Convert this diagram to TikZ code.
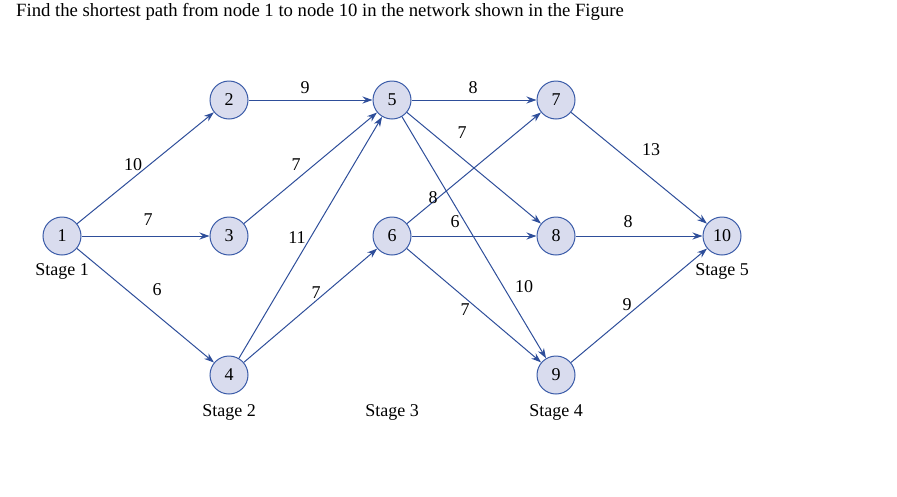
\documentclass[tikz,border=0pt]{standalone}
\usepackage{fontspec}
\setmainfont{Liberation Serif}
\usetikzlibrary{arrows.meta}
\definecolor{nfill}{HTML}{D9DCEE}
\definecolor{nline}{HTML}{3A5BA8}
\definecolor{eline}{HTML}{2E4E9A}
\begin{document}
\begin{tikzpicture}[x=1pt,y=-1pt,
  nd/.style={circle,draw=nline,fill=nfill,line width=1pt,minimum size=38pt,inner sep=0pt,font=\fontsize{18}{19}\selectfont},
  ed/.style={draw=eline,line width=1pt,-{Stealth[length=10pt,width=7pt]}},
  lb/.style={font=\fontsize{18}{19}\selectfont,inner sep=0pt},
  font=\fontsize{18}{19}\selectfont]
\useasboundingbox (0,0) rectangle (897,496);
\node[anchor=west,inner sep=0pt,font=\fontsize{18.7}{20}\selectfont] (title) at (16,12) {Find the shortest path from node 1 to node 10 in the network shown in the Figure};
\node[nd] (n1) at (62,236) {1};
\node[nd] (n2) at (229,100) {2};
\node[nd] (n3) at (229,236) {3};
\node[nd] (n4) at (229,375) {4};
\node[nd] (n5) at (392,100) {5};
\node[nd] (n6) at (392,236) {6};
\node[nd] (n7) at (556,100) {7};
\node[nd] (n8) at (556,236) {8};
\node[nd] (n9) at (556,375) {9};
\node[nd] (n10) at (722,236) {10};
\draw[ed] (n1) -- (n2);
\draw[ed] (n1) -- (n3);
\draw[ed] (n1) -- (n4);
\draw[ed] (n2) -- (n5);
\draw[ed] (n3) -- (n5);
\draw[ed] (n4) -- (n5);
\draw[ed] (n4) -- (n6);
\draw[ed] (n5) -- (n7);
\draw[ed] (n5) -- (n8);
\draw[ed] (n5) -- (n9);
\draw[ed] (n6) -- (n7);
\draw[ed] (n6) -- (n8);
\draw[ed] (n6) -- (n9);
\draw[ed] (n7) -- (n10);
\draw[ed] (n8) -- (n10);
\draw[ed] (n9) -- (n10);
\node[lb] (l12) at (133,165) {10};
\node[lb] (l13) at (148,220) {7};
\node[lb] (l14) at (157,290) {6};
\node[lb] (l25) at (305,88) {9};
\node[lb] (l35) at (296,165) {7};
\node[lb] (l45) at (297,238) {11};
\node[lb] (l46) at (316,293) {7};
\node[lb] (l57) at (473,88) {8};
\node[lb] (l58) at (462,133) {7};
\node[lb] (l59) at (524,287) {10};
\node[lb] (l67) at (433,198) {8};
\node[lb] (l68) at (455,222) {6};
\node[lb] (l69) at (465,310) {7};
\node[lb] (l710) at (651,150) {13};
\node[lb] (l810) at (628,222) {8};
\node[lb] (l910) at (627,305) {9};
\node[lb] (s1) at (62,271) {Stage 1};
\node[lb] (s2) at (229,412) {Stage 2};
\node[lb] (s3) at (392,412) {Stage 3};
\node[lb] (s4) at (556,412) {Stage 4};
\node[lb] (s5) at (722,271) {Stage 5};
\end{tikzpicture}
\end{document}
